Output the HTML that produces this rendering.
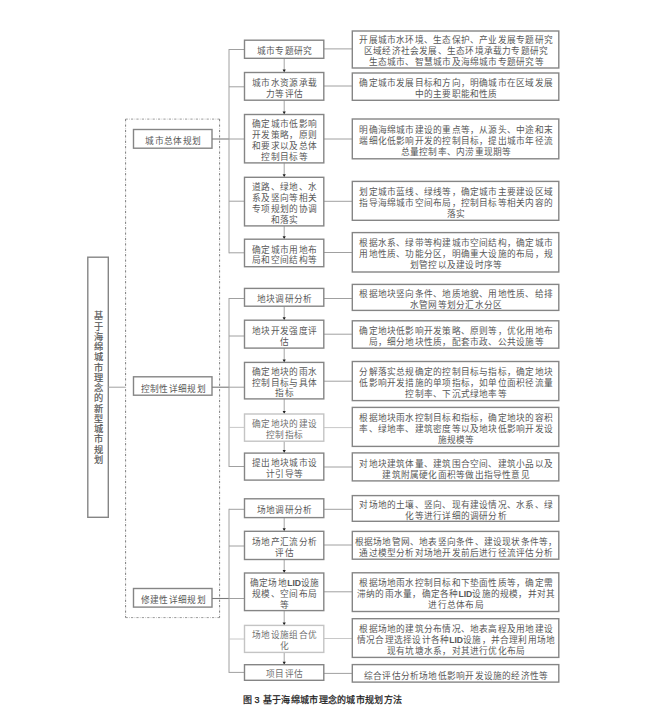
<!DOCTYPE html>
<html lang="zh-CN"><head><meta charset="utf-8"><style>
html,body{margin:0;padding:0;background:#fff;}
body{width:653px;height:715px;position:relative;overflow:hidden;font-family:"Liberation Serif",serif;}
#pg{position:absolute;left:0;top:0;width:653px;height:715px;background:#fff;}
svg{position:absolute;left:0;top:0;}
.t{position:absolute;display:flex;align-items:center;justify-content:center;text-align:center;font-size:8.7px;line-height:11px;letter-spacing:0.22px;color:#585858;white-space:nowrap;}
.t span{position:relative;top:2.7px;left:0.6px;}
.t.m span{top:2.4px;left:0.6px;}
.t.lb span{top:3px;}
.t.m{line-height:10.8px;letter-spacing:0.32px;}
.lid{font-family:"Liberation Sans",sans-serif;font-weight:bold;font-size:8.6px;letter-spacing:0;-webkit-text-stroke:0;}
.t.lt{color:#707070;}
.v{position:absolute;left:87.8px;top:257.2px;width:20.5px;height:260px;display:flex;align-items:center;justify-content:center;text-align:center;font-size:9.2px;line-height:10.25px;padding-top:2px;box-sizing:border-box;color:#585858;-webkit-text-stroke:0.2px #585858;}
.cap{position:absolute;left:242.5px;top:695px;letter-spacing:0.3px;font-family:"Liberation Sans",sans-serif;font-size:9px;line-height:11px;color:#1a1a1a;white-space:nowrap;font-weight:normal;-webkit-text-stroke:0.25px #1a1a1a;}
</style></head><body>
<div id="pg">
<svg width="653" height="715" viewBox="0 0 653 715">
<rect x="87.8" y="257.2" width="20.5" height="260.1" fill="#fff" stroke="#858585" stroke-width="1.4" />
<line x1="108.3" y1="387.2" x2="125.5" y2="387.2" stroke="#a0a0a0" stroke-width="1.0" />
<line x1="125.6" y1="119.1" x2="219.6" y2="119.1" stroke="#9a9a9a" stroke-width="1" stroke-dasharray="2.2 3.2"/>
<line x1="125.6" y1="119.1" x2="219.6" y2="119.1" stroke="#c4c4c4" stroke-width="1" stroke-dasharray="0.9 4.5" stroke-dashoffset="-3.4"/>
<line x1="125.6" y1="617.6" x2="219.6" y2="617.6" stroke="#9a9a9a" stroke-width="1" stroke-dasharray="2.2 3.2"/>
<line x1="125.6" y1="617.6" x2="219.6" y2="617.6" stroke="#c4c4c4" stroke-width="1" stroke-dasharray="0.9 4.5" stroke-dashoffset="-3.4"/>
<line x1="125.6" y1="119.1" x2="125.6" y2="617.6" stroke="#7c7c7c" stroke-width="1" stroke-dasharray="2.2 3.2"/>
<line x1="125.6" y1="119.1" x2="125.6" y2="617.6" stroke="#c4c4c4" stroke-width="1" stroke-dasharray="0.9 4.5" stroke-dashoffset="-3.4"/>
<line x1="219.6" y1="119.1" x2="219.6" y2="617.6" stroke="#7c7c7c" stroke-width="1" stroke-dasharray="2.2 3.2"/>
<line x1="219.6" y1="119.1" x2="219.6" y2="617.6" stroke="#c4c4c4" stroke-width="1" stroke-dasharray="0.9 4.5" stroke-dashoffset="-3.4"/>
<rect x="133.5" y="129.5" width="78.5" height="18.7" fill="#fff" stroke="#858585" stroke-width="1.4" />
<line x1="212.0" y1="139.0" x2="229.0" y2="139.0" stroke="#7a7a7a" stroke-width="1.1" />
<rect x="133.5" y="376.8" width="78.5" height="18.4" fill="#fff" stroke="#858585" stroke-width="1.4" />
<line x1="212.0" y1="387.2" x2="229.0" y2="387.2" stroke="#7a7a7a" stroke-width="1.1" />
<rect x="133.5" y="588.5" width="78.5" height="18.6" fill="#fff" stroke="#858585" stroke-width="1.4" />
<line x1="212.0" y1="598.5" x2="229.0" y2="598.5" stroke="#7a7a7a" stroke-width="1.1" />
<line x1="229.0" y1="49.0" x2="229.0" y2="253.3" stroke="#a0a0a0" stroke-width="1.0" />
<line x1="229.0" y1="49.5" x2="244.5" y2="49.5" stroke="#a0a0a0" stroke-width="1.0" />
<line x1="229.0" y1="86.8" x2="244.5" y2="86.8" stroke="#a0a0a0" stroke-width="1.0" />
<line x1="229.0" y1="139.0" x2="244.5" y2="139.0" stroke="#a0a0a0" stroke-width="1.0" />
<line x1="229.0" y1="201.2" x2="244.5" y2="201.2" stroke="#a0a0a0" stroke-width="1.0" />
<line x1="229.0" y1="252.8" x2="244.5" y2="252.8" stroke="#a0a0a0" stroke-width="1.0" />
<line x1="229.0" y1="298.0" x2="229.0" y2="467.0" stroke="#a0a0a0" stroke-width="1.0" />
<line x1="229.0" y1="298.5" x2="244.5" y2="298.5" stroke="#a0a0a0" stroke-width="1.0" />
<line x1="229.0" y1="336.0" x2="244.5" y2="336.0" stroke="#a0a0a0" stroke-width="1.0" />
<line x1="229.0" y1="387.2" x2="244.5" y2="387.2" stroke="#a0a0a0" stroke-width="1.0" />
<line x1="229.0" y1="427.4" x2="244.5" y2="427.4" stroke="#c8c8c8" stroke-width="1.0" />
<line x1="229.0" y1="466.5" x2="244.5" y2="466.5" stroke="#a0a0a0" stroke-width="1.0" />
<line x1="229.0" y1="508.8" x2="229.0" y2="672.9" stroke="#a0a0a0" stroke-width="1.0" />
<line x1="229.0" y1="509.3" x2="244.5" y2="509.3" stroke="#a0a0a0" stroke-width="1.0" />
<line x1="229.0" y1="546.0" x2="244.5" y2="546.0" stroke="#a0a0a0" stroke-width="1.0" />
<line x1="229.0" y1="598.5" x2="244.5" y2="598.5" stroke="#a0a0a0" stroke-width="1.0" />
<line x1="229.0" y1="639.0" x2="244.5" y2="639.0" stroke="#c8c8c8" stroke-width="1.0" />
<line x1="229.0" y1="672.4" x2="244.5" y2="672.4" stroke="#a0a0a0" stroke-width="1.0" />
<line x1="323.8" y1="48.9" x2="352.3" y2="48.9" stroke="#a0a0a0" stroke-width="1.0" />
<line x1="323.8" y1="86.0" x2="352.3" y2="86.0" stroke="#a0a0a0" stroke-width="1.0" />
<line x1="323.8" y1="139.0" x2="352.3" y2="139.0" stroke="#a0a0a0" stroke-width="1.0" />
<line x1="323.8" y1="201.3" x2="352.3" y2="201.3" stroke="#a0a0a0" stroke-width="1.0" />
<line x1="323.8" y1="252.5" x2="352.3" y2="252.5" stroke="#a0a0a0" stroke-width="1.0" />
<line x1="323.8" y1="298.5" x2="352.3" y2="298.5" stroke="#a0a0a0" stroke-width="1.0" />
<line x1="323.8" y1="334.2" x2="352.3" y2="334.2" stroke="#a0a0a0" stroke-width="1.0" />
<line x1="323.8" y1="381.2" x2="352.3" y2="381.2" stroke="#a0a0a0" stroke-width="1.0" />
<line x1="323.8" y1="427.6" x2="352.3" y2="427.6" stroke="#c8c8c8" stroke-width="1.0" />
<line x1="323.8" y1="467.0" x2="352.3" y2="467.0" stroke="#a0a0a0" stroke-width="1.0" />
<line x1="323.8" y1="509.3" x2="352.3" y2="509.3" stroke="#a0a0a0" stroke-width="1.0" />
<line x1="323.8" y1="545.0" x2="352.3" y2="545.0" stroke="#a0a0a0" stroke-width="1.0" />
<line x1="323.8" y1="591.8" x2="352.3" y2="591.8" stroke="#a0a0a0" stroke-width="1.0" />
<line x1="323.8" y1="638.5" x2="352.3" y2="638.5" stroke="#c8c8c8" stroke-width="1.0" />
<line x1="323.8" y1="673.4" x2="352.3" y2="673.4" stroke="#a0a0a0" stroke-width="1.0" />
<line x1="284.2" y1="58.3" x2="284.2" y2="70.0" stroke="#9a9a9a" stroke-width="0.9" />
<path d="M282.59999999999997,69.5 L285.8,69.5 L284.2,72.5 Z" fill="#222"/>
<line x1="284.2" y1="100.2" x2="284.2" y2="112.0" stroke="#9a9a9a" stroke-width="0.9" />
<path d="M282.59999999999997,111.5 L285.8,111.5 L284.2,114.5 Z" fill="#222"/>
<line x1="284.2" y1="162.9" x2="284.2" y2="174.8" stroke="#9a9a9a" stroke-width="0.9" />
<path d="M282.59999999999997,174.3 L285.8,174.3 L284.2,177.3 Z" fill="#222"/>
<line x1="284.2" y1="225.9" x2="284.2" y2="236.7" stroke="#9a9a9a" stroke-width="0.9" />
<path d="M282.59999999999997,236.2 L285.8,236.2 L284.2,239.2 Z" fill="#222"/>
<line x1="284.2" y1="306.2" x2="284.2" y2="317.7" stroke="#9a9a9a" stroke-width="0.9" />
<path d="M282.59999999999997,317.2 L285.8,317.2 L284.2,320.2 Z" fill="#222"/>
<line x1="284.2" y1="348.1" x2="284.2" y2="359.9" stroke="#9a9a9a" stroke-width="0.9" />
<path d="M282.59999999999997,359.4 L285.8,359.4 L284.2,362.4 Z" fill="#222"/>
<line x1="284.2" y1="398.9" x2="284.2" y2="411.5" stroke="#9a9a9a" stroke-width="0.9" />
<path d="M282.59999999999997,411.0 L285.8,411.0 L284.2,414.0 Z" fill="#222"/>
<line x1="284.2" y1="441.2" x2="284.2" y2="450.6" stroke="#9a9a9a" stroke-width="0.9" />
<path d="M282.59999999999997,450.1 L285.8,450.1 L284.2,453.1 Z" fill="#222"/>
<line x1="284.2" y1="517.6" x2="284.2" y2="528.8" stroke="#9a9a9a" stroke-width="0.9" />
<path d="M282.59999999999997,528.3 L285.8,528.3 L284.2,531.3 Z" fill="#222"/>
<line x1="284.2" y1="559.5" x2="284.2" y2="570.5" stroke="#9a9a9a" stroke-width="0.9" />
<path d="M282.59999999999997,570.0 L285.8,570.0 L284.2,573.0 Z" fill="#222"/>
<line x1="284.2" y1="610.6" x2="284.2" y2="622.9" stroke="#9a9a9a" stroke-width="0.9" />
<path d="M282.59999999999997,622.4 L285.8,622.4 L284.2,625.4 Z" fill="#222"/>
<line x1="284.2" y1="652.4" x2="284.2" y2="662.2" stroke="#9a9a9a" stroke-width="0.9" />
<path d="M282.59999999999997,661.7 L285.8,661.7 L284.2,664.7 Z" fill="#222"/>
<rect x="244.5" y="40.2" width="79.3" height="18.1" fill="#fff" stroke="#858585" stroke-width="1.4" />
<rect x="244.5" y="72.5" width="79.3" height="27.7" fill="#fff" stroke="#858585" stroke-width="1.4" />
<rect x="244.5" y="114.5" width="79.3" height="48.4" fill="#fff" stroke="#858585" stroke-width="1.4" />
<rect x="244.5" y="177.3" width="79.3" height="48.6" fill="#fff" stroke="#858585" stroke-width="1.4" />
<rect x="244.5" y="239.2" width="79.3" height="27.5" fill="#fff" stroke="#858585" stroke-width="1.4" />
<rect x="244.5" y="288.4" width="79.3" height="17.8" fill="#fff" stroke="#858585" stroke-width="1.4" />
<rect x="244.5" y="320.2" width="79.3" height="27.9" fill="#fff" stroke="#858585" stroke-width="1.4" />
<rect x="244.5" y="362.4" width="79.3" height="36.5" fill="#fff" stroke="#858585" stroke-width="1.4" />
<rect x="244.5" y="414.0" width="79.3" height="27.2" fill="#fff" stroke="#c4c4c4" stroke-width="1.4" />
<rect x="244.5" y="453.1" width="79.3" height="27.0" fill="#fff" stroke="#858585" stroke-width="1.4" />
<rect x="244.5" y="498.8" width="79.3" height="18.8" fill="#fff" stroke="#858585" stroke-width="1.4" />
<rect x="244.5" y="531.3" width="79.3" height="28.2" fill="#fff" stroke="#858585" stroke-width="1.4" />
<rect x="244.5" y="573.0" width="79.3" height="37.6" fill="#fff" stroke="#858585" stroke-width="1.4" />
<rect x="244.5" y="625.4" width="79.3" height="27.0" fill="#fff" stroke="#c4c4c4" stroke-width="1.4" />
<rect x="244.5" y="664.7" width="79.3" height="15.6" fill="#fff" stroke="#858585" stroke-width="1.4" />
<rect x="352.3" y="31.0" width="206.5" height="37.0" fill="#fff" stroke="#858585" stroke-width="1.4" />
<rect x="352.3" y="73.0" width="206.5" height="27.3" fill="#fff" stroke="#858585" stroke-width="1.4" />
<rect x="352.3" y="119.0" width="206.5" height="39.8" fill="#fff" stroke="#858585" stroke-width="1.4" />
<rect x="352.3" y="181.4" width="206.5" height="38.9" fill="#fff" stroke="#858585" stroke-width="1.4" />
<rect x="352.3" y="232.6" width="206.5" height="39.4" fill="#fff" stroke="#858585" stroke-width="1.4" />
<rect x="352.3" y="284.4" width="206.5" height="26.0" fill="#fff" stroke="#858585" stroke-width="1.4" />
<rect x="352.3" y="320.8" width="206.5" height="27.4" fill="#fff" stroke="#858585" stroke-width="1.4" />
<rect x="352.3" y="361.5" width="206.5" height="39.1" fill="#fff" stroke="#858585" stroke-width="1.4" />
<rect x="352.3" y="407.4" width="206.5" height="39.0" fill="#fff" stroke="#858585" stroke-width="1.4" />
<rect x="352.3" y="452.9" width="206.5" height="28.0" fill="#fff" stroke="#858585" stroke-width="1.4" />
<rect x="352.3" y="495.6" width="206.5" height="25.7" fill="#fff" stroke="#858585" stroke-width="1.4" />
<rect x="352.3" y="531.4" width="206.5" height="27.8" fill="#fff" stroke="#858585" stroke-width="1.4" />
<rect x="352.3" y="572.8" width="206.5" height="38.7" fill="#fff" stroke="#858585" stroke-width="1.4" />
<rect x="352.3" y="618.7" width="206.5" height="38.7" fill="#fff" stroke="#858585" stroke-width="1.4" />
<rect x="352.3" y="664.6" width="206.5" height="17.5" fill="#fff" stroke="#858585" stroke-width="1.4" />
</svg>
<div class="t m lb" style="left:133.5px;top:129.5px;width:78.5px;height:18.7px"><span>城市总体规划</span></div>
<div class="t m lb" style="left:133.5px;top:376.8px;width:78.5px;height:18.4px"><span>控制性详细规划</span></div>
<div class="t m lb" style="left:133.5px;top:588.5px;width:78.5px;height:18.6px"><span>修建性详细规划</span></div>
<div class="t m" style="left:244.5px;top:40.2px;width:79.3px;height:18.1px"><span>城市专题研究</span></div>
<div class="t m" style="left:244.5px;top:72.5px;width:79.3px;height:27.7px"><span>城市水资源承载<br>力等评估</span></div>
<div class="t m" style="left:244.5px;top:114.5px;width:79.3px;height:48.4px"><span>确定城市低影响<br>开发策略，原则<br>和要求以及总体<br>控制目标等</span></div>
<div class="t m" style="left:244.5px;top:177.3px;width:79.3px;height:48.6px"><span>道路、绿地、水<br>系及竖向等相关<br>专项规划的协调<br>和落实</span></div>
<div class="t m" style="left:244.5px;top:239.2px;width:79.3px;height:27.5px"><span>确定城市用地布<br>局和空间结构等</span></div>
<div class="t m" style="left:244.5px;top:288.4px;width:79.3px;height:17.8px"><span>地块调研分析</span></div>
<div class="t m" style="left:244.5px;top:320.2px;width:79.3px;height:27.9px"><span>地块开发强度评<br>估</span></div>
<div class="t m" style="left:244.5px;top:362.4px;width:79.3px;height:36.5px"><span>确定地块的雨水<br>控制目标与具体<br>指标</span></div>
<div class="t m lt" style="left:244.5px;top:414.0px;width:79.3px;height:27.2px"><span>确定地块的建设<br>控制指标</span></div>
<div class="t m" style="left:244.5px;top:453.1px;width:79.3px;height:27.0px"><span>提出地块城市设<br>计引导等</span></div>
<div class="t m" style="left:244.5px;top:498.8px;width:79.3px;height:18.8px"><span>场地调研分析</span></div>
<div class="t m" style="left:244.5px;top:531.3px;width:79.3px;height:28.2px"><span>场地产汇流分析<br>评估</span></div>
<div class="t m" style="left:244.5px;top:573.0px;width:79.3px;height:37.6px"><span>确定场地<b class="lid">LID</b>设施<br>规模、空间布局<br>等</span></div>
<div class="t m lt" style="left:244.5px;top:625.4px;width:79.3px;height:27.0px"><span>场地设施组合优<br>化</span></div>
<div class="t m lt" style="left:244.5px;top:664.7px;width:79.3px;height:15.6px"><span>项目评估</span></div>
<div class="t " style="left:352.3px;top:30.0px;width:206.5px;height:37.0px"><span>开展城市水环境、生态保护、产业发展专题研究<br>区域经济社会发展、生态环境承载力专题研究<br>生态城市、智慧城市及海绵城市专题研究等</span></div>
<div class="t " style="left:352.3px;top:73.0px;width:206.5px;height:27.3px"><span>确定城市发展目标和方向，明确城市在区域发展<br>中的主要职能和性质</span></div>
<div class="t " style="left:352.3px;top:119.0px;width:206.5px;height:39.8px"><span>明确海绵城市建设的重点等，从源头、中途和末<br>端细化低影响开发的控制目标，提出城市年径流<br>总量控制率、内涝重现期等</span></div>
<div class="t " style="left:352.3px;top:181.4px;width:206.5px;height:38.9px"><span>划定城市蓝线、绿线等，确定城市主要建设区域<br>指导海绵城市空间布局，控制目标等相关内容的<br>落实</span></div>
<div class="t " style="left:352.3px;top:232.6px;width:206.5px;height:39.4px"><span>根据水系、绿带等构建城市空间结构，确定城市<br>用地性质、功能分区，明确重大设施的布局，规<br>划管控以及建设时序等</span></div>
<div class="t " style="left:352.3px;top:284.4px;width:206.5px;height:26.0px"><span>根据地块竖向条件、地质地貌、用地性质、给排<br>水管网等划分汇水分区</span></div>
<div class="t " style="left:352.3px;top:320.8px;width:206.5px;height:27.4px"><span>确定地块低影响开发策略、原则等，优化用地布<br>局，细分地块性质，配套市政、公共设施等</span></div>
<div class="t " style="left:352.3px;top:361.5px;width:206.5px;height:39.1px"><span>分解落实总规确定的控制目标与指标，确定地块<br>低影响开发措施的单项指标，如单位面积径流量<br>控制率、下沉式绿地率等</span></div>
<div class="t " style="left:352.3px;top:407.4px;width:206.5px;height:39.0px"><span>根据地块雨水控制目标和指标，确定地块的容积<br>率、绿地率、建筑密度等以及地块低影响开发设<br>施规模等</span></div>
<div class="t " style="left:352.3px;top:452.9px;width:206.5px;height:28.0px"><span>对地块建筑体量、建筑围合空间、建筑小品以及<br>建筑附属硬化面积等做出指导性意见</span></div>
<div class="t " style="left:352.3px;top:495.6px;width:206.5px;height:25.7px"><span>对场地的土壤、竖向、现有建设情况、水系、绿<br>化等进行详细的调研分析</span></div>
<div class="t " style="left:352.3px;top:531.4px;width:206.5px;height:27.8px"><span>根据场地管网、地表竖向条件、建设现状条件等，<br>通过模型分析对场地开发前后进行径流评估分析</span></div>
<div class="t " style="left:352.3px;top:572.8px;width:206.5px;height:38.7px"><span>根据场地雨水控制目标和下垫面性质等，确定需<br>滞纳的雨水量，确定各种<b class="lid">LID</b>设施的规模，并对其<br>进行总体布局</span></div>
<div class="t " style="left:352.3px;top:618.7px;width:206.5px;height:38.7px"><span>根据场地的建筑分布情况、地表高程及用地建设<br>情况合理选择设计各种<b class="lid">LID</b>设施，并合理利用场地<br>现有坑塘水系，对其进行优化布局</span></div>
<div class="t " style="left:352.3px;top:664.6px;width:206.5px;height:17.5px"><span>综合评估分析场地低影响开发设施的经济性等</span></div>
<div class="v">基<br>于<br>海<br>绵<br>城<br>市<br>理<br>念<br>的<br>新<br>型<br>城<br>市<br>规<br>划</div>
<div class="cap">图 3 基于海绵城市理念的城市规划方法</div>
</div>
</body></html>
